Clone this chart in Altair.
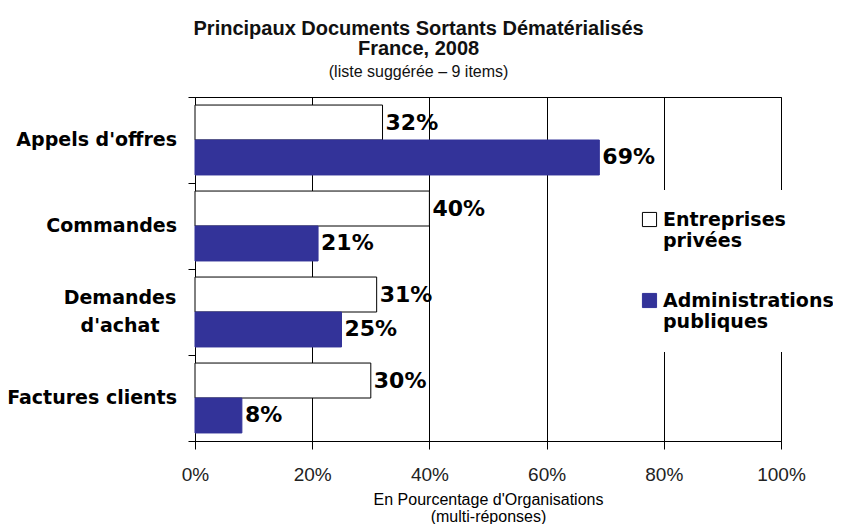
import altair as alt
import pandas as pd

categories = ["Appels d'offres", "Commandes", "Demandes|d'achat", "Factures clients"]
series = ["Entreprises privées", "Administrations publiques"]
entreprises = [32, 40, 31, 30]
administrations = [69, 21, 25, 8]
x_ticks = [0, 20, 40, 60, 80, 100]

rows = []
for c, e, a in zip(categories, entreprises, administrations):
    rows.append({"cat": c, "serie": series[0], "val": e, "lab": f"{e}%"})
    rows.append({"cat": c, "serie": series[1], "val": a, "lab": f"{a}%"})
df = pd.DataFrame(rows)
cat_df = pd.DataFrame({"cat": categories, "multi": ["|" in c for c in categories]})

BOLD = "DejaVu Sans"
ARIAL = "Liberation Sans"

y_enc = alt.Y("cat:N", sort=categories, title=None,
              scale=alt.Scale(paddingInner=0, paddingOuter=0),
              axis=alt.Axis(labels=False, tickBand="extent", tickSize=7,
                            tickColor="black", domainColor="black"))
yoff = alt.YOffset("serie:N", sort=series, scale=alt.Scale(paddingOuter=0.23, paddingInner=0))

x_enc = alt.X("val:Q", scale=alt.Scale(domain=[0, 100]),
              axis=alt.Axis(values=x_ticks, labelExpr="datum.value + '%'", grid=True,
                            gridColor="black", gridOpacity=1, tickColor="black",
                            domainColor="black", tickSize=8, labelFont=ARIAL,
                            labelFontSize=19, labelColor="#222", labelPadding=16,
                            labelFlush=False,
                            title=["En Pourcentage d'Organisations", "(multi-réponses)"],
                            titleFont=ARIAL, titleFontSize=16, titleFontWeight="normal",
                            titleColor="black", titlePadding=7, titleLineHeight=17))

bars = alt.Chart(df).mark_bar(strokeWidth=1).encode(
    x=x_enc,
    y=y_enc,
    yOffset=yoff,
    fill=alt.Fill("serie:N", sort=series,
                  scale=alt.Scale(domain=series, range=["white", "#333399"]),
                  legend=alt.Legend(orient="none", legendX=425, legendY=93, title=None,
                                    fillColor="white", padding=20,
                                    symbolType="square", symbolSize=200,
                                    symbolStrokeColor="black", symbolStrokeWidth=1,
                                    labelExpr="split(datum.label, ' ')",
                                    labelFont=BOLD, labelFontWeight="bold",
                                    labelFontSize=19, labelColor="black",
                                    labelLimit=400,
                                    labelBaseline="middle", labelOffset=4,
                                    symbolOffset=0, rowPadding=40)),
    stroke=alt.Stroke("serie:N", sort=series,
                      scale=alt.Scale(domain=series, range=["black", "#333399"]),
                      legend=None),
)

labels = alt.Chart(df).mark_text(align="left", baseline="middle", dx=3, font=BOLD,
                                 fontWeight="bold", fontSize=22, color="black").encode(
    x="val:Q",
    y=alt.Y("cat:N", sort=categories),
    yOffset=alt.YOffset("serie:N", sort=series),
    text="lab:N",
)

cat_single = alt.Chart(cat_df).transform_filter("!datum.multi").mark_text(
    align="right", baseline="middle", font=BOLD, fontWeight="bold", fontSize=19,
    color="black").encode(
    x=alt.value(-18), y=alt.Y("cat:N", sort=categories), text="cat:N")

cat_multi = alt.Chart(cat_df).transform_filter("datum.multi").mark_text(
    align="center", baseline="middle", font=BOLD, fontWeight="bold", fontSize=19,
    color="black", lineBreak="|", lineHeight=28, dy=-14).encode(
    x=alt.value(-75), y=alt.Y("cat:N", sort=categories), text="cat:N")

chart = alt.layer(bars, labels, cat_single, cat_multi).properties(
    width=586, height=344,
    title=alt.TitleParams(
        text=["Principaux Documents Sortants Dématérialisés", "France, 2008"],
        subtitle="(liste suggérée – 9 items)",
        font=ARIAL, fontSize=20, fontWeight="bold", color="#111", lineHeight=20,
        subtitleFont=ARIAL, subtitleFontSize=16, subtitleColor="#111",
        anchor="middle", frame="bounds", offset=17, subtitlePadding=5, dx=-12),
    autosize=alt.AutoSizeParams(type="none"),
    padding={"left": 187, "top": 89, "right": 52, "bottom": 83},
).configure_view(stroke="black", strokeWidth=1).configure_axis(grid=False)

chart.save("out.html", embed_options={"renderer": "svg", "actions": False})
